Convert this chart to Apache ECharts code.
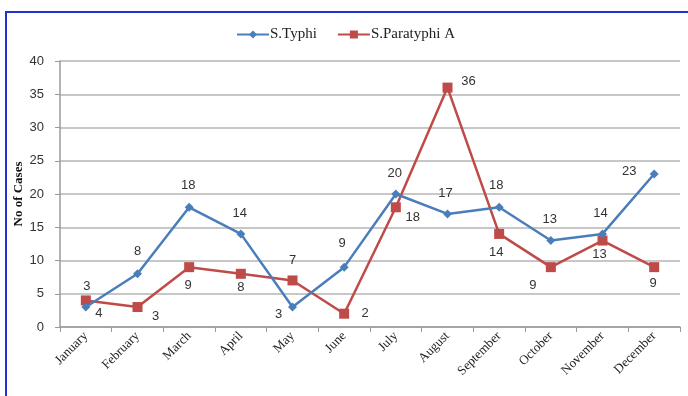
<!DOCTYPE html>
<html>
<head>
<meta charset="utf-8">
<script src="https://cdn.jsdelivr.net/npm/echarts@6/dist/echarts.min.js"></script>
<style>
    html, body { margin: 0; padding: 0; background: #fff; }
    /* 外框 */
    .frame {
        position: absolute; left: 5px; top: 11px; width: 700px; height: 400px;
        border-left: 2px solid #1f2fd0; border-top: 2px solid #1f2fd0;
    }
    #chart { position: absolute; left: 0; top: 0; width: 688px; height: 396px; }
</style>
</head>
<body>
<div class="frame"></div>
<div id="chart"></div>
<script>
    var months = ['January', 'February', 'March', 'April', 'May', 'June', 'July',
        'August', 'September', 'October', 'November', 'December'];
    var typhi = [3, 8, 18, 14, 3, 9, 20, 17, 18, 13, 14, 23];
    var paratyphi = [4, 3, 9, 8, 7, 2, 18, 36, 14, 9, 13, 9];
    var yTicks = [0, 5, 10, 15, 20, 25, 30, 35, 40];

    // 标签偏移（样式）
    var typhiOffsets = [[1, -21], [0, -22], [-1, -22], [-1, -20], [-14, 7], [-2, -24],
        [-1, -21], [-2, -21], [-3, -22], [-1, -21], [-2, -20], [-25, -3]];
    var paraOffsets = [[13, 13], [18, 9], [-1, 18], [0, 14], [0, -20], [21, 0],
        [17, 10], [21, -6], [-3, 19], [-18, 18], [-3, 14], [-1, 16]];

    function withLabels(values, offsets) {
        return values.map(function (v, i) {
            return { value: v, label: { offset: offsets[i] } };
        });
    }

    var myChart = echarts.init(document.getElementById('chart'));
    var option = {
        animation: false,
        legend: {
            top: 22,
            left: 231,
            itemGap: 20,
            itemWidth: 32,
            itemHeight: 10,
            textStyle: {
                fontFamily: 'Liberation Serif', fontSize: 15, color: '#222',
                padding: [0, 0, 0, -4]
            },
            data: ['S.Typhi', 'S.Paratyphi A']
        },
        grid: { left: 60, right: 8, top: 61, bottom: 69, outerBoundsMode: 'none' },
        xAxis: {
            type: 'category',
            data: months,
            boundaryGap: true,
            axisLine: { lineStyle: { color: '#9a9a9a', width: 1.5 } },
            axisTick: { show: true, length: 5, lineStyle: { color: '#9a9a9a' } },
            axisLabel: {
                interval: 0, rotate: 45, margin: 7,
                fontFamily: 'Liberation Serif', fontSize: 13, color: '#222'
            }
        },
        yAxis: {
            type: 'value',
            min: yTicks[0],
            max: yTicks[yTicks.length - 1],
            interval: 5,
            name: 'No of Cases',
            nameLocation: 'middle',
            nameRotate: 90,
            nameGap: 35,
            nameMoveOverlap: false,
            nameTextStyle: { fontFamily: 'Liberation Serif', fontWeight: 'bold', fontSize: 13, color: '#111' },
            axisLine: { show: true, lineStyle: { color: '#9a9a9a', width: 1.5 } },
            axisTick: { show: true, length: 5, lineStyle: { color: '#9a9a9a' } },
            axisLabel: { fontFamily: 'Liberation Sans', fontSize: 13, color: '#333', margin: 16 },
            splitLine: { lineStyle: { color: '#b4b4b4', width: 1.5 } }
        },
        series: [{
            name: 'S.Typhi',
            type: 'line',
            data: withLabels(typhi, typhiOffsets),
            symbol: 'diamond',
            symbolSize: 9,
            color: '#4a7ebb',
            lineStyle: { width: 2.5, color: '#4a7ebb' },
            label: {
                show: true, position: 'inside',
                fontFamily: 'Liberation Sans', fontSize: 13, color: '#333'
            },
            z: 3
        }, {
            name: 'S.Paratyphi A',
            type: 'line',
            data: withLabels(paratyphi, paraOffsets),
            symbol: 'rect',
            symbolSize: 10,
            color: '#be4b48',
            lineStyle: { width: 2.5, color: '#be4b48' },
            label: {
                show: true, position: 'inside',
                fontFamily: 'Liberation Sans', fontSize: 13, color: '#333'
            },
            z: 2
        }]
    };
    myChart.setOption(option);
</script>
</body>
</html>
